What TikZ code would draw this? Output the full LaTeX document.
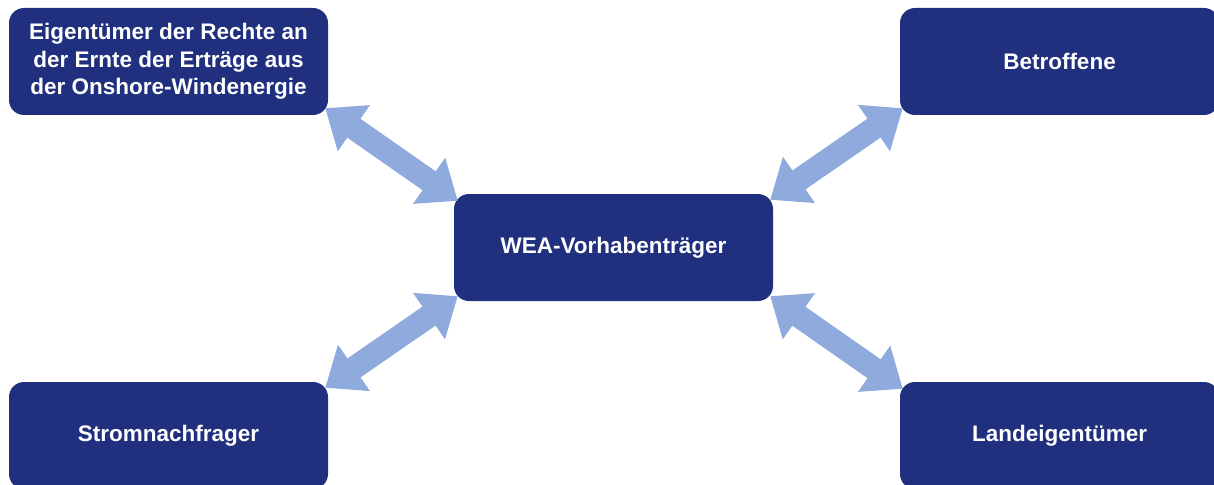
\documentclass[tikz,border=0pt]{standalone}
\usepackage{fontspec}
\setmainfont{Liberation Sans}
\usetikzlibrary{arrows.meta}
\definecolor{boxblue}{RGB}{33,48,126}
\definecolor{arrowblue}{RGB}{143,170,220}
\begin{document}
\begin{tikzpicture}[x=1pt,y=-1pt,
  box/.style={fill=boxblue, draw=none, rounded corners=15pt, minimum width=319pt, minimum height=107pt,
    text=white, font=\bfseries\fontsize{22.5}{27.5}\selectfont, align=center, inner sep=0pt},
  dbl/.style={draw=arrowblue, line width=23pt, line cap=butt,
    {Triangle[length=35pt,width=54pt,fill=arrowblue]}-{Triangle[length=35pt,width=54pt,fill=arrowblue]}}]
\useasboundingbox (0,0) rectangle (1214,484);
\clip (0,0) rectangle (1214,484);
\node[box] (tl) at (168.5,61.5) {Eigentümer der Rechte an\\der Ernte der Erträge aus\\der Onshore-Windenergie};
\node[box] (tr) at (1059.5,61.5) {Betroffene};
\node[box] (c) at (613.5,247.5) {WEA-Vorhabenträger};
\node[box] (bl) at (168.5,435.5) {Stromnachfrager};
\node[box] (br) at (1059.5,435.5) {Landeigentümer};
\draw[dbl] ([shift={(-3,-7)}]tl.south east) -- ([shift={(4,7)}]c.north west);
\draw[dbl] ([shift={(3,-7)}]tr.south west) -- ([shift={(-3,6)}]c.north east);
\draw[dbl] ([shift={(-3,6)}]bl.north east) -- ([shift={(4,-5)}]c.south west);
\draw[dbl] ([shift={(3,7)}]br.north west) -- ([shift={(-3,-5)}]c.south east);
\end{tikzpicture}
\end{document}
